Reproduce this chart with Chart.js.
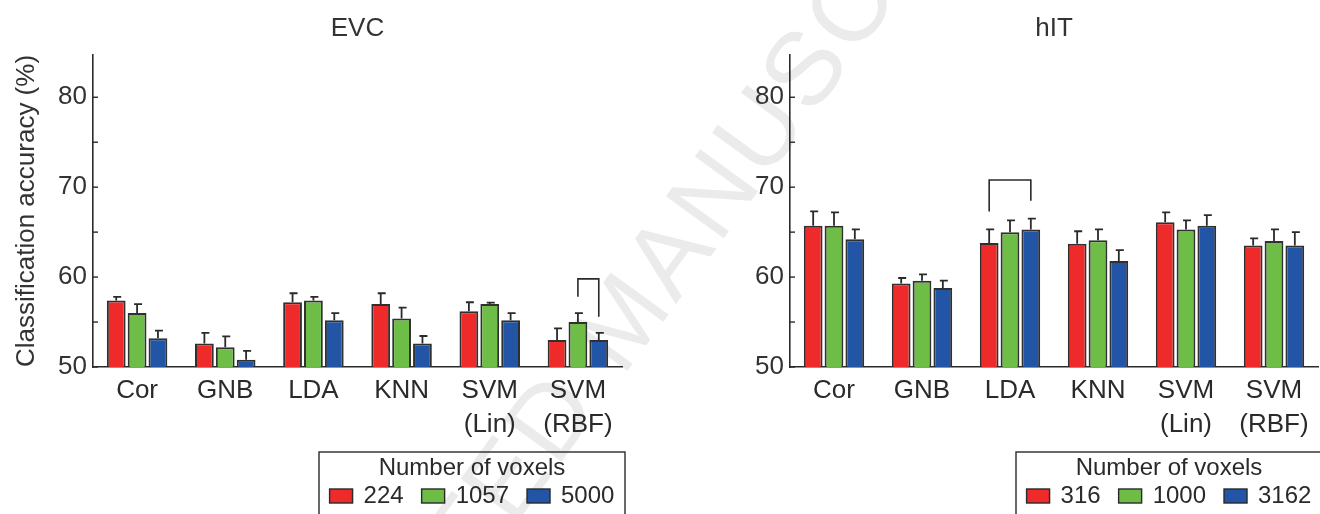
<!DOCTYPE html>
<html>
<head>
<meta charset="utf-8">
<script src="https://cdn.jsdelivr.net/npm/chart.js@4.4.0/dist/chart.umd.min.js"></script>
<style>
body { margin: 0; background: #fff; width: 1320px; height: 514px; overflow: hidden; position: relative; }
#wm { position: absolute; left: 622px; top: 318px; transform: translate(-50%, -50%) rotate(-54deg);
      font: 104px "Liberation Sans", Arial, sans-serif; color: #ebebeb; white-space: nowrap; letter-spacing: 4px; }
canvas { position: absolute; top: 0; }
#evc { left: 0; }
#hit { left: 660px; }
</style>
</head>
<body>
<div id="wm">ACCEPTED MANUSCRIPT</div>
<canvas id="evc" width="660" height="514"></canvas>
<canvas id="hit" width="660" height="514"></canvas>
<script>
// classifiers on the x axis
const categories = ['Cor', 'GNB', 'LDA', 'KNN', ['SVM', '(Lin)'], ['SVM', '(RBF)']];
const yTicks = [50, 55, 60, 65, 70, 75, 80];

// EVC, mean accuracy (%) and upper error per voxel count
const evcVoxels = ['224', '1057', '5000'];
const evc224 = [57.4, 52.6, 57.2, 57.0, 56.2, 53.0];
const evc1057 = [56.0, 52.2, 57.4, 55.4, 57.0, 55.0];
const evc5000 = [53.2, 50.8, 55.2, 52.6, 55.2, 53.0];
const evc224Err = [0.4, 1.2, 1.0, 1.2, 1.0, 1.3];
const evc1057Err = [1.0, 1.2, 0.4, 1.2, 0.15, 1.0];
const evc5000Err = [0.85, 1.0, 0.8, 0.85, 0.8, 0.8];
// bracket: [category, from dataset, to dataset, top, left end, right end]
const evcBracket = [5, 1, 2, 59.8, 57.8, 55.6];

// hIT
const hitVoxels = ['316', '1000', '3162'];
const hit316 = [65.7, 59.3, 63.8, 63.7, 66.1, 63.5];
const hit1000 = [65.7, 59.6, 65.0, 64.1, 65.3, 64.0];
const hit3162 = [64.2, 58.8, 65.3, 61.8, 65.7, 63.5];
const hit316Err = [1.6, 0.6, 1.5, 1.4, 1.1, 0.8];
const hit1000Err = [1.5, 0.7, 1.3, 1.2, 1.0, 1.3];
const hit3162Err = [1.1, 0.8, 1.2, 1.2, 1.2, 1.5];
const hitBracket = [2, 0, 2, 70.8, 67.3, 68.5];

const colors = ['#ee2a2b', '#6dbd46', '#2255a5'];
const ink = '#2a2a2a';
const FONT = '"Liberation Sans", Arial, sans-serif';
Chart.defaults.font.family = FONT;
Chart.defaults.color = '#2a2a2a';

const extras = {
  id: 'extras',
  afterDatasetsDraw(chart) {
    const o = chart.options.plugins.extras;
    const ctx = chart.ctx, y = chart.scales.y, area = chart.chartArea;
    ctx.save();
    ctx.strokeStyle = ink;
    ctx.lineWidth = 1.8;
    // error bars, upper only
    chart.data.datasets.forEach((ds, i) => {
      chart.getDatasetMeta(i).data.forEach((bar, j) => {
        const y0 = y.getPixelForValue(ds.data[j]);
        const y1 = y.getPixelForValue(ds.data[j] + o.errs[i][j]);
        ctx.beginPath();
        ctx.moveTo(bar.x, y0);
        ctx.lineTo(bar.x, y1);
        ctx.moveTo(bar.x - 3, y1);
        ctx.lineTo(bar.x + 5, y1);
        ctx.stroke();
      });
    });
    // significance bracket
    const b = o.bracket;
    const xa = chart.getDatasetMeta(b[1]).data[b[0]].x;
    const xb = chart.getDatasetMeta(b[2]).data[b[0]].x;
    ctx.lineWidth = 1.6;
    ctx.beginPath();
    ctx.moveTo(xa, y.getPixelForValue(b[4]));
    ctx.lineTo(xa, y.getPixelForValue(b[3]));
    ctx.lineTo(xb, y.getPixelForValue(b[3]));
    ctx.lineTo(xb, y.getPixelForValue(b[5]));
    ctx.stroke();
    // inward tick marks
    ctx.lineWidth = 1.4;
    yTicks.forEach(v => {
      const ty = y.getPixelForValue(v);
      ctx.beginPath();
      ctx.moveTo(area.left, ty);
      ctx.lineTo(area.left + 5, ty);
      ctx.stroke();
    });
    ctx.restore();
  },
  afterDraw(chart) {
    const o = chart.options.plugins.extras;
    const ctx = chart.ctx, area = chart.chartArea;
    ctx.save();
    ctx.fillStyle = '#333';
    ctx.font = '26px ' + FONT;
    ctx.textAlign = 'center';
    ctx.textBaseline = 'middle';
    ctx.fillText(o.title, (area.left + area.right) / 2, 29);
    // legend box
    const lb = o.legendBox;
    ctx.strokeStyle = ink;
    ctx.lineWidth = 1.4;
    ctx.strokeRect(lb[0], lb[1], lb[2] - lb[0], 90);
    const cx = (lb[0] + lb[2]) / 2;
    ctx.font = '24px ' + FONT;
    ctx.fillStyle = '#2a2a2a';
    ctx.fillText('Number of voxels', cx, lb[1] + 16);
    const labels = chart.data.datasets.map(d => d.label);
    const widths = labels.map(l => 23 + 11 + ctx.measureText(l).width);
    const gap = 18;
    let x = cx - (widths.reduce((a, w) => a + w, 0) + gap * (labels.length - 1)) / 2;
    ctx.textAlign = 'left';
    labels.forEach((l, i) => {
      ctx.fillStyle = colors[i];
      ctx.fillRect(x, lb[1] + 37, 23, 14);
      ctx.strokeRect(x, lb[1] + 37, 23, 14);
      ctx.fillStyle = '#2a2a2a';
      ctx.fillText(l, x + 34, lb[1] + 44);
      x += widths[i] + gap;
    });
    ctx.restore();
  }
};

function makeChart(id, title, voxels, series, errs, bracket, yTitle, axisLeft, padRight, legendBox) {
  new Chart(document.getElementById(id), {
    type: 'bar',
    data: {
      labels: categories,
      datasets: series.map((d, i) => ({
        label: voxels[i],
        data: d,
        backgroundColor: colors[i],
        borderColor: '#303030',
        borderWidth: 2,
        categoryPercentage: 0.71,
        barPercentage: 0.9
      }))
    },
    options: {
      responsive: false,
      animation: false,
      layout: { padding: { top: 55, right: padRight, bottom: 0, left: 0 } },
      plugins: {
        legend: { display: false },
        tooltip: { enabled: false },
        extras: { title: title, errs: errs, bracket: bracket, legendBox: legendBox }
      },
      scales: {
        x: {
          grid: { display: false, drawTicks: false },
          border: { color: ink, width: 1.6 },
          ticks: { font: { size: 26, lineHeight: 1.3 }, color: '#2a2a2a', padding: 7, maxRotation: 0, autoSkip: false },
          afterFit(s) { s.height = 147; }
        },
        y: {
          min: 50,
          max: 84.7,
          grid: { display: false, drawTicks: false },
          border: { color: ink, width: 1.6 },
          afterBuildTicks(s) { s.ticks = yTicks.map(v => ({ value: v })); },
          ticks: {
            font: { size: 26 },
            color: '#333',
            padding: 6,
            callback: v => (v % 10 === 0 ? String(v) : '')
          },
          title: { display: !!yTitle, text: yTitle, font: { size: 26 }, color: '#333', padding: { top: 11, bottom: 0 } },
          afterFit(s) { s.width = axisLeft; }
        }
      }
    },
    plugins: [extras]
  });
}

makeChart('evc', 'EVC', evcVoxels, [evc224, evc1057, evc5000], [evc224Err, evc1057Err, evc5000Err],
  evcBracket, 'Classification accuracy (%)', 93, 38, [319, 452, 625]);
makeChart('hit', 'hIT', hitVoxels, [hit316, hit1000, hit3162], [hit316Err, hit1000Err, hit3162Err],
  hitBracket, '', 130, 2, [356, 452, 662]);
</script>
</body>
</html>
